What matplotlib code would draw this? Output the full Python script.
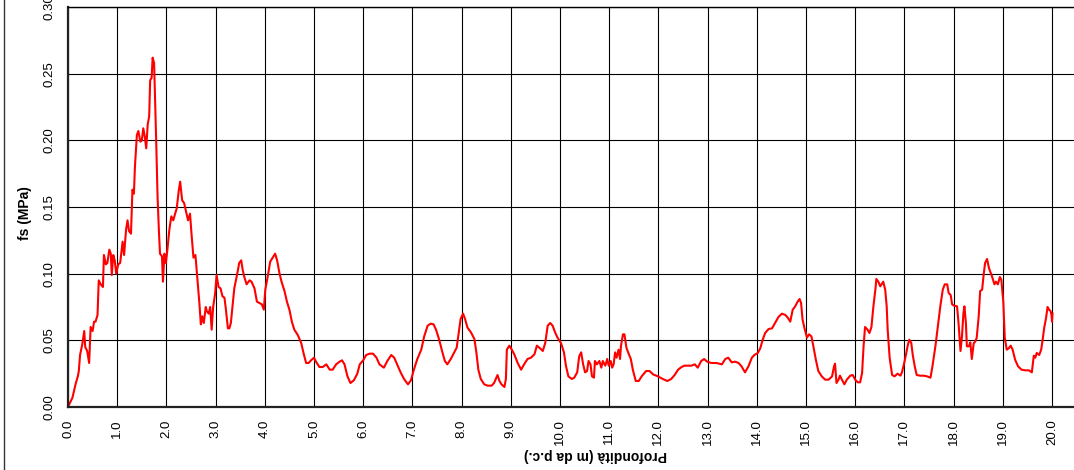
import matplotlib
matplotlib.use("Agg")
import matplotlib.pyplot as plt
from matplotlib.lines import Line2D
import numpy as np

plt.rcParams['font.family'] = ['Liberation Sans', 'DejaVu Sans']

# Depth (m from ground level) and sleeve friction fs (MPa)
depth_m = [
    0.00, 0.09, 0.16, 0.20, 0.22, 0.245, 0.29, 0.33, 0.35, 0.39, 0.43, 0.46, 0.50, 0.53, 0.56, 0.60,
    0.625, 0.665, 0.71, 0.73, 0.77, 0.80, 0.84, 0.87, 0.89, 0.92, 0.95, 0.98, 1.02, 1.06, 1.11, 1.14,
    1.18, 1.21, 1.24, 1.28, 1.31, 1.34, 1.36, 1.40, 1.43, 1.47, 1.50, 1.53, 1.56, 1.59, 1.62, 1.65,
    1.67, 1.70, 1.72, 1.75, 1.79, 1.82, 1.85, 1.87, 1.91, 1.93, 1.96, 1.99, 2.02, 2.06, 2.10, 2.14,
    2.17, 2.21, 2.25, 2.28, 2.32, 2.36, 2.42, 2.44, 2.48, 2.51, 2.55, 2.59, 2.61, 2.65, 2.67, 2.70,
    2.73, 2.76, 2.80, 2.82, 2.86, 2.89, 2.92, 2.95, 2.99, 3.02, 3.06, 3.10, 3.14, 3.18, 3.21, 3.25,
    3.28, 3.31, 3.35, 3.38, 3.44, 3.48, 3.52, 3.55, 3.58, 3.63, 3.69, 3.73, 3.79, 3.84, 3.89, 3.94,
    3.98, 4.01, 4.06, 4.11, 4.16, 4.21, 4.25, 4.30, 4.34, 4.40, 4.45, 4.50, 4.55, 4.60, 4.67, 4.74,
    4.79, 4.84, 4.89, 4.94, 5.00, 5.04, 5.11, 5.18, 5.25, 5.32, 5.38, 5.45, 5.52, 5.57, 5.62, 5.68,
    5.74, 5.81, 5.88, 5.93, 6.00, 6.06, 6.13, 6.20, 6.27,
    6.33, 6.42, 6.49, 6.57, 6.63, 6.69, 6.76, 6.83, 6.91, 6.97, 7.03, 7.10, 7.18, 7.24, 7.31, 7.37,
    7.43, 7.48, 7.54, 7.61, 7.66, 7.71, 7.78, 7.85, 7.90, 7.95, 7.98, 8.03, 8.07, 8.12, 8.19, 8.26,
    8.30, 8.34, 8.39, 8.46, 8.53, 8.61, 8.66, 8.73, 8.77, 8.81, 8.87, 8.90, 8.92, 8.97, 9.02, 9.07,
    9.14, 9.21, 9.27, 9.34, 9.41, 9.48, 9.53, 9.58, 9.65, 9.70, 9.75, 9.80, 9.85, 9.90, 9.95, 10.02,
    10.08, 10.12, 10.17, 10.24, 10.29, 10.35, 10.39, 10.43, 10.47, 10.51, 10.55, 10.58, 10.62, 10.65,
    10.69, 10.71, 10.75, 10.80, 10.84, 10.87, 10.92, 10.96, 10.99, 11.03, 11.06, 11.09, 11.12, 11.15,
    11.19, 11.22, 11.24, 11.28, 11.31, 11.35, 11.40, 11.44, 11.48, 11.54, 11.60, 11.66, 11.75, 11.82,
    11.89, 11.99, 12.09, 12.18, 12.26, 12.33, 12.40, 12.47, 12.53, 12.60, 12.67, 12.74, 12.80, 12.87,
    12.93, 12.99, 13.08, 13.18,
    13.29, 13.36, 13.42, 13.49, 13.56, 13.63, 13.69, 13.76, 13.83, 13.90, 13.95, 14.02, 14.07, 14.12,
    14.17, 14.24, 14.31, 14.37, 14.44, 14.51, 14.58, 14.63, 14.68, 14.73, 14.78, 14.83, 14.87, 14.90,
    14.93, 14.97, 15.02, 15.06, 15.11, 15.15, 15.20, 15.25, 15.32, 15.39, 15.46, 15.53, 15.57, 15.59,
    15.62, 15.66, 15.69, 15.73, 15.78, 15.83, 15.90, 15.95, 16.00, 16.05, 16.10, 16.14, 16.17, 16.20,
    16.25, 16.29, 16.33, 16.37, 16.41, 16.43, 16.47, 16.51, 16.57, 16.61, 16.64, 16.66, 16.70, 16.75,
    16.80, 16.86, 16.92, 16.95, 16.99, 17.03, 17.07, 17.10, 17.14, 17.17, 17.21, 17.25, 17.32, 17.39,
    17.46, 17.53, 17.57, 17.63, 17.68, 17.73, 17.78, 17.82, 17.87, 17.90, 17.94, 17.97, 18.01, 18.07,
    18.10, 18.14, 18.17, 18.20, 18.22, 18.25, 18.27, 18.31, 18.34, 18.37, 18.41, 18.44, 18.47, 18.51,
    18.54, 18.58, 18.61, 18.64, 18.68, 18.72, 18.78, 18.83, 18.86, 18.90, 18.94, 18.97, 19.01, 19.04,
    19.08, 19.12, 19.16, 19.20, 19.25, 19.31, 19.38, 19.46, 19.53, 19.59, 19.63, 19.66, 19.69, 19.74,
    19.78, 19.81, 19.84, 19.88, 19.91, 19.94, 19.97, 19.99, 20.00, 20.01,
]

fs_mpa = [
    0.000, 0.007, 0.018, 0.023, 0.027, 0.039, 0.047, 0.057, 0.045, 0.042, 0.033, 0.060, 0.057, 0.064, 0.064, 0.069,
    0.095, 0.092, 0.090, 0.114, 0.107, 0.108, 0.118, 0.115, 0.099, 0.114, 0.110, 0.100, 0.107, 0.108, 0.124, 0.114,
    0.133, 0.140, 0.132, 0.130, 0.163, 0.160, 0.180, 0.204, 0.207, 0.199, 0.200, 0.209, 0.203, 0.194, 0.212, 0.218,
    0.245, 0.247, 0.262, 0.258, 0.203, 0.158, 0.130, 0.115, 0.113, 0.094, 0.115, 0.108, 0.118, 0.133, 0.143, 0.140,
    0.144, 0.149, 0.162, 0.169, 0.155, 0.153, 0.143, 0.140, 0.145, 0.130, 0.112, 0.114, 0.105, 0.088, 0.078, 0.062,
    0.068, 0.063, 0.075, 0.072, 0.070, 0.075, 0.058, 0.075, 0.085, 0.099, 0.090, 0.089, 0.083, 0.082, 0.073, 0.059,
    0.059, 0.063, 0.078, 0.089, 0.100, 0.108, 0.110, 0.103, 0.098, 0.092, 0.095, 0.094, 0.089, 0.079, 0.078, 0.077,
    0.073, 0.088, 0.098, 0.109, 0.112, 0.115, 0.110, 0.100, 0.094, 0.087, 0.079, 0.073, 0.064, 0.058, 0.054, 0.048,
    0.040, 0.033, 0.033, 0.035, 0.037, 0.034, 0.030, 0.030, 0.032, 0.028, 0.028, 0.032, 0.034, 0.035, 0.032, 0.023,
    0.018, 0.020, 0.025, 0.032, 0.035, 0.039, 0.040, 0.040, 0.037,
    0.032, 0.0295, 0.0345, 0.039, 0.037, 0.032, 0.026, 0.021, 0.017, 0.020, 0.028, 0.036, 0.043, 0.053, 0.061, 0.0625,
    0.062, 0.058, 0.051, 0.041, 0.0345, 0.032, 0.036, 0.041, 0.0445, 0.058, 0.066, 0.070, 0.066, 0.0595, 0.056, 0.051,
    0.041, 0.028, 0.021, 0.017, 0.016, 0.016, 0.018, 0.024, 0.0195, 0.017, 0.015, 0.021, 0.043, 0.046, 0.043, 0.0395,
    0.033, 0.028, 0.032, 0.036, 0.037, 0.0395, 0.046, 0.0445, 0.042, 0.048, 0.061, 0.063, 0.061, 0.056, 0.052, 0.048,
    0.041, 0.031, 0.023, 0.021, 0.022, 0.026, 0.038, 0.041, 0.032, 0.026, 0.027, 0.0345, 0.032, 0.023,
    0.022, 0.0345, 0.032, 0.0345, 0.0295, 0.0345, 0.031, 0.036, 0.031, 0.0345, 0.0295, 0.032, 0.041, 0.037,
    0.043, 0.036, 0.046, 0.0545, 0.0545, 0.0445, 0.0395, 0.036, 0.028, 0.0195, 0.0195, 0.023, 0.027, 0.027,
    0.0245, 0.023, 0.021, 0.0195, 0.021, 0.024, 0.028, 0.030, 0.031, 0.031, 0.031, 0.032, 0.0295, 0.0345,
    0.036, 0.034, 0.033, 0.033,
    0.032, 0.036, 0.037, 0.0335, 0.034, 0.033, 0.0305, 0.026, 0.0305, 0.037, 0.039, 0.0405, 0.044, 0.0505,
    0.0555, 0.0585, 0.059, 0.063, 0.0675, 0.070, 0.069, 0.067, 0.064, 0.073, 0.0755, 0.079, 0.081, 0.078,
    0.0655, 0.059, 0.052, 0.0545, 0.053, 0.0455, 0.0355, 0.027, 0.023, 0.0205, 0.0205, 0.023, 0.0305, 0.0325,
    0.018, 0.0205, 0.0235, 0.0205, 0.017, 0.0205, 0.0235, 0.024, 0.0205, 0.0185, 0.0185, 0.0255, 0.0455, 0.060,
    0.058, 0.0555, 0.060, 0.0755, 0.088, 0.096, 0.094, 0.0905, 0.094, 0.088, 0.0755, 0.058, 0.037, 0.024,
    0.023, 0.025, 0.0235, 0.026, 0.032, 0.039, 0.0465, 0.0505, 0.048, 0.039, 0.0305, 0.024, 0.0235, 0.0235,
    0.023, 0.022, 0.0305, 0.0455, 0.0605, 0.0755, 0.088, 0.092, 0.092, 0.0855, 0.084, 0.077, 0.076, 0.0755,
    0.063, 0.042, 0.053, 0.0705, 0.0755, 0.063, 0.0455, 0.0455, 0.0485, 0.036, 0.048, 0.049, 0.052, 0.068,
    0.087, 0.088, 0.099, 0.108, 0.111, 0.104, 0.098, 0.092, 0.094, 0.092, 0.0975, 0.0955, 0.079, 0.052,
    0.043, 0.044, 0.046, 0.043, 0.0355, 0.0305, 0.028, 0.0275, 0.0275, 0.026, 0.0385, 0.037, 0.0405, 0.039,
    0.043, 0.0505, 0.059, 0.067, 0.075, 0.073, 0.072, 0.069, 0.064, 0.070,
]

x_ticks = [float(i) for i in range(0, 21)]
y_ticks = [0.00, 0.05, 0.10, 0.15, 0.20, 0.25, 0.30]
x_label = "Profondità (m da p.c.)"
y_label = "fs (MPa)"

W, H = 1074, 470
fig = plt.figure(figsize=(W / 100, H / 100), dpi=100)
x0_px, x_unit_px = 68, 49.2
y_top_px, y_bot_px = 7, 407
ax = fig.add_axes([x0_px / W, (H - y_bot_px) / H, (W - x0_px) / W, (y_bot_px - y_top_px) / H])

ax.plot(depth_m, fs_mpa, color='#ff0000', lw=1.5, solid_joinstyle='round')

ax.set_xlim(0, (W - x0_px) / x_unit_px)
ax.set_ylim(0, 0.30)
ax.set_xticks(x_ticks)
ax.set_xticklabels([f"{v:.1f}" for v in x_ticks])
ax.set_yticks(y_ticks)
ax.set_yticklabels([f"{v:.2f}" for v in y_ticks])

ax.grid(True, color='black', lw=0.8)
ax.set_axisbelow(True)
ax.tick_params(axis='both', length=0, labelsize=9.5, colors='black')
ax.tick_params(axis='x', labelrotation=90, pad=9)
ax.tick_params(axis='y', labelrotation=90, pad=9)
for lbl in ax.get_yticklabels():
    lbl.set_va('center')

for s in ['left', 'bottom']:
    ax.spines[s].set_linewidth(1.6)
    ax.spines[s].set_color('#222222')
ax.spines['top'].set_linewidth(1.0)
ax.spines['right'].set_visible(False)

fig.text(595 / W, 1 - 455 / H, x_label, rotation=180, ha='center', va='center',
         fontsize=10, fontweight='bold')
fig.text(25 / W, 1 - 213 / H, y_label, rotation=90, ha='center', va='center',
         fontsize=10, fontweight='bold')

fig.add_artist(Line2D([3.5 / W, 3.5 / W], [0, 1], color='#333333', lw=1.0))

fig.savefig("out.png", dpi=100)
